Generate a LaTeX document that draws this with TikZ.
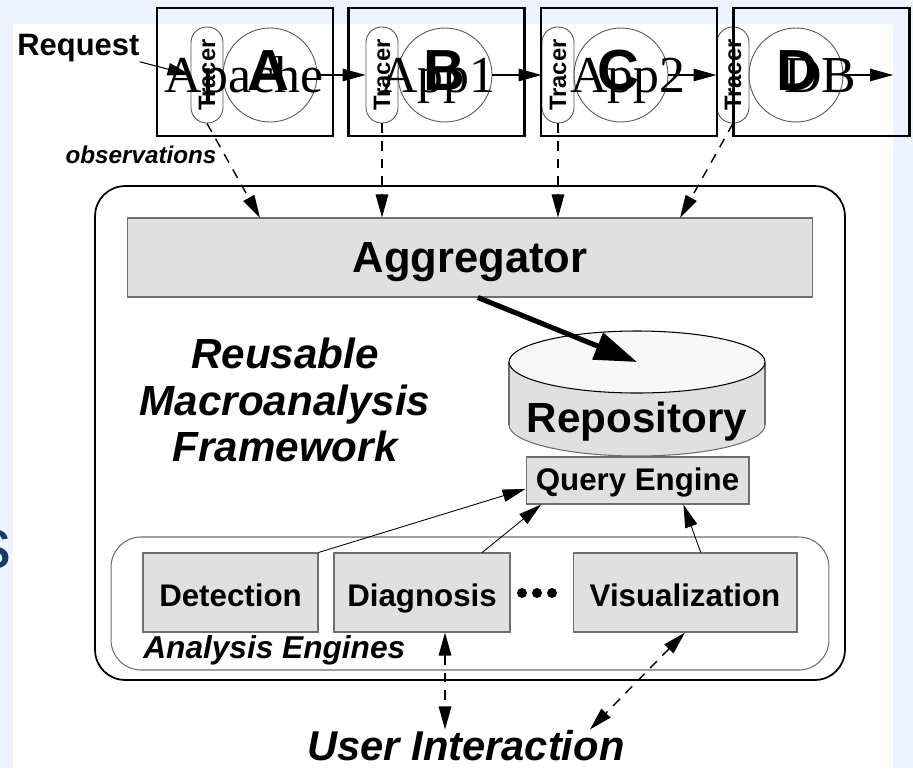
\documentclass[tikz,border=0pt]{standalone}
\usepackage{fontspec}
\setmainfont{Liberation Sans}
\newfontfamily\timesfont{Liberation Serif}
\usetikzlibrary{arrows.meta,calc}
\definecolor{slideBg}{HTML}{EEF4FF}
\definecolor{slideInk}{HTML}{163C6C}
\definecolor{boxFill}{HTML}{E0E0E0}
\definecolor{boxLine}{HTML}{6E6E6E}
\definecolor{capFill}{HTML}{F8F8F8}
\definecolor{thinLine}{HTML}{555555}
\tikzset{
  tip/.style={-{Triangle[length=0.46cm, width=0.25cm]}},
  tracerpill/.style={draw=thinLine, line width=0.5pt, rounded corners=0.31cm,
                     rotate=90, minimum width=1.92cm, minimum height=0.64cm,
                     inner sep=0pt, font=\fontsize{13.5}{15}\selectfont\bfseries},
  appcircle/.style={circle, draw=thinLine, line width=0.5pt, minimum size=1.88cm,
                    inner sep=0pt},
  appletter/.style={font=\fontsize{33}{38}\selectfont\bfseries, inner sep=0pt,
                    anchor=base},
  apptext/.style={font=\fontsize{29.5}{33}\selectfont\timesfont, inner sep=0pt,
                  anchor=base},
  overbox/.style={draw, line width=1.2pt, minimum width=3.52cm, minimum height=2.56cm},
  graybox/.style={draw=boxLine, fill=boxFill, line width=0.6pt, inner sep=0pt},
  aggbox/.style={graybox, minimum width=13.72cm, minimum height=1.58cm,
                 font=\fontsize{24.8}{28}\selectfont\bfseries, text depth=0pt},
  enginebox/.style={graybox, minimum height=1.58cm,
                    font=\fontsize{17.8}{21}\selectfont\bfseries,
                    text height=16pt, text depth=0pt},
  querybox/.style={graybox, minimum width=4.46cm, minimum height=0.94cm,
                   font=\fontsize{17.8}{21}\selectfont\bfseries,
                   text height=11pt, text depth=0pt},
  framebox/.style={draw, line width=1pt, rounded corners=0.6cm,
                   minimum width=15cm, minimum height=9.88cm},
  groupbox/.style={draw=boxLine, line width=0.6pt, rounded corners=0.6cm,
                   minimum width=14.36cm, minimum height=2.66cm},
  reqlabel/.style={font=\fontsize{17.6}{21}\selectfont\bfseries, inner sep=0pt},
  obslabel/.style={font=\fontsize{13.8}{16}\selectfont\bfseries\itshape,
                   inner sep=0pt, anchor=base},
  fwlabel/.style={font=\fontsize{24}{26.4}\selectfont\bfseries\itshape,
                  align=center, inner sep=0pt},
  biglabel/.style={font=\fontsize{24}{28}\selectfont\bfseries, inner sep=0pt,
                   anchor=base},
  slidetext/.style={font=\fontsize{41}{48}\selectfont, text=slideInk, inner sep=0pt},
  flow/.style={tip, line width=0.6pt},
  useflow/.style={tip, line width=0.5pt},
  obsflow/.style={tip, line width=0.8pt, dash pattern=on 5.5pt off 4.5pt},
  uiflow/.style={{Triangle[length=0.46cm, width=0.25cm]}-{Triangle[length=0.46cm, width=0.25cm]},
                 line width=0.8pt, dash pattern=on 5.5pt off 4.5pt},
  bigflow/.style={-{Triangle[length=0.85cm, width=0.56cm]}, line width=2.9pt},
}
\begin{document}
\begin{tikzpicture}[x=0.02cm, y=-0.02cm]
  \useasboundingbox (0,0) rectangle (913,768);
  % slide backdrop
  \fill[slideBg] (0,0) rectangle (913,768);
  \fill[white] (13,24) rectangle (893,768);
  \begin{scope}
    \clip (0,0) rectangle (13,768);
    \node[slidetext, anchor=base east] (slideS) at (12,568) {s};
  \end{scope}

  % request path: tracer + tier
  \node[reqlabel, anchor=base west] (request) at (17,55) {Request};
  \node[tracerpill] (tracerA) at (207,75) {Tracer};
  \node[appcircle] (appA) at (270,75) {};
  \node[tracerpill] (tracerB) at (382,75) {Tracer};
  \node[appcircle] (appB) at (445,75) {};
  \node[tracerpill] (tracerC) at (558,75) {Tracer};
  \node[appcircle] (appC) at (621,75) {};
  \node[tracerpill] (tracerD) at (733,75) {Tracer};
  \node[appcircle] (appD) at (796,75) {};
  \coordinate (exit) at (893,75);
  \node[appletter] (letA) at (268,90) {A};
  \node[appletter] (letB) at (444,90) {B};
  \node[appletter] (letC) at (618,90) {C};
  \node[appletter] (letD) at (797,90) {D};

  \draw[flow] (request.south east) -- (tracerA.north);
  \draw[flow] (appA.east) -- (tracerB.north);
  \draw[flow] (appB.east) -- (tracerC.north);
  \draw[flow] (appC.east) -- (tracerD.north);
  \draw[flow] (appD.east) -- (exit);

  % framework
  \node[framebox] (frame) at (470,433) {};
  \node[aggbox] (aggr) at (470,257.5) {Aggregator};
  \node[fwlabel] (fw) at (285,400) {Reusable\\Macroanalysis\\Framework};

  % repository cylinder
  \filldraw[fill=boxFill, draw=boxLine, line width=0.6pt]
    (637,425) ellipse [x radius=128, y radius=31];
  \fill[boxFill] (509,362) rectangle (765,425);
  \draw[boxLine, line width=0.6pt] (509,362) -- (509,425) (765,362) -- (765,425);
  \filldraw[fill=capFill, draw=black, line width=0.6pt]
    (637,362) ellipse [x radius=128, y radius=31];
  \coordinate (repoTop) at (637,362);
  \node[biglabel] (repo) at (637,432) {Repository};
  \node[querybox] (query) at (637.5,480.5) {Query Engine};

  % analysis engines
  \node[groupbox] (engines) at (470,603.5) {};
  \node[enginebox, minimum width=3.5cm] (detect) at (230.5,592.5) {Detection};
  \node[enginebox, minimum width=3.52cm] (diag) at (422,592.5) {Diagnosis};
  \node[enginebox, minimum width=4.48cm] (vis) at (685,592.5) {Visualization};
  \foreach \x in {522,537,552}
    \fill (\x,593) circle [radius=5];
  \node[obslabel, anchor=base west, font=\fontsize{18}{21}\selectfont\bfseries\itshape]
    (enginesLbl) at (143,658) {Analysis Engines};
  \node[obslabel, font=\fontsize{23.7}{28}\selectfont\bfseries\itshape]
    (user) at (466,760) {User Interaction};

  % observations
  \node[obslabel] (obs) at (141,163) {observations};
  \coordinate (obsA) at (260,218);
  \coordinate (obsD) at (680,218);
  \draw[obsflow] (tracerA.west) -- (obsA);
  \draw[obsflow] (tracerB.west) -- (tracerB.west |- aggr.north);
  \draw[obsflow] (tracerC.west) -- (tracerC.west |- aggr.north);
  \draw[obsflow] (tracerD.west) -- (obsD);

  \draw[bigflow] ([xshift=4.5pt]aggr.south) -- (repoTop);

  % queries
  \draw[useflow] (detect.north east) -- ([yshift=-4.8pt]query.west);
  \draw[useflow] ($(diag.north)!0.68!(diag.north east)$)
    -- ($(query.south west)!0.07!(query.south east)$);
  \draw[useflow] ($(vis.north)!0.14!(vis.north east)$)
    -- ($(query.south west)!0.705!(query.south east)$);

  % user interaction
  \coordinate (uiA) at ($(diag.south)!0.26!(diag.south east)$);
  \draw[uiflow] (uiA) -- (uiA |- user.north);
  \draw[uiflow] (vis.south) -- ($(user.north)!0.78!(user.north east)$);

  % overlaid tier boxes
  \node[overbox] (boxA) at (245,72) {};
  \node[overbox] (boxB) at (436.5,72) {};
  \node[overbox] (boxC) at (629,72) {};
  \node[overbox] (boxD) at (821.5,72) {};
  \node[apptext] (nameA) at (244,92) {Apache};
  \node[apptext] (nameB) at (438,92) {App1};
  \node[apptext] (nameC) at (628,92) {App2};
  \node[apptext] (nameD) at (820,92) {DB};
\end{tikzpicture}
\end{document}
